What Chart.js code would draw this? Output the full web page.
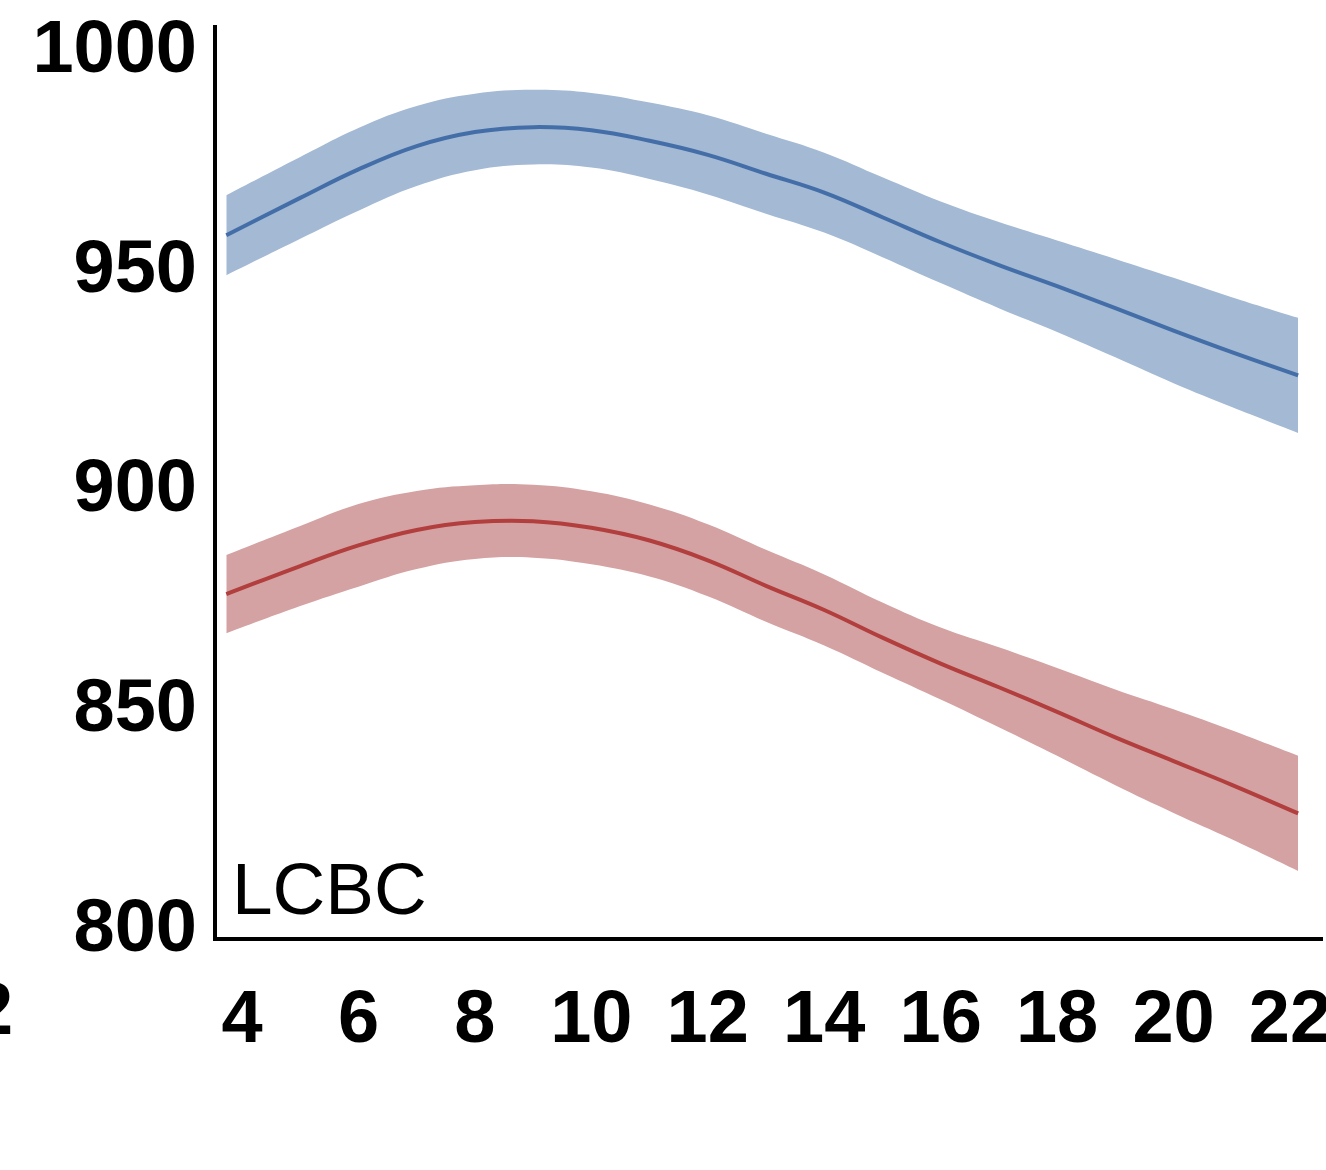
<!DOCTYPE html>
<html>
<head>
<meta charset="utf-8">
<title>LCBC</title>
<script src="https://cdn.jsdelivr.net/npm/chart.js@4.4.1/dist/chart.umd.min.js"></script>
<style>
  html, body { margin: 0; padding: 0; background: #fff; }
  #wrap { width: 1326px; height: 1170px; position: relative; }
</style>
</head>
<body>
<div id="wrap"><canvas id="chart"></canvas></div>
<script>
const ages = [3.73, 5, 6, 7, 8, 9, 10, 11, 12, 13, 14, 15, 16, 17, 18, 19, 20, 21, 22.14];

const blueMean  = [958.2, 966.7, 973.2, 978.5, 981.7, 982.8, 982.1, 979.7, 976.5, 972.2, 967.9, 962.3, 956.6, 951.4, 946.6, 941.6, 936.5, 931.6, 926.3];
const blueUpper = [967.3, 976.0, 982.6, 987.6, 990.4, 991.3, 990.6, 988.4, 985.5, 981.3, 977.0, 971.4, 965.9, 961.2, 957.0, 952.8, 948.5, 944.1, 939.4];
const blueLower = [949.1, 957.4, 963.8, 969.4, 973.0, 974.3, 973.6, 971.0, 967.5, 963.1, 958.8, 953.2, 947.3, 941.6, 936.2, 930.4, 924.5, 919.1, 913.2];

const redMean  = [876.5, 882.9, 887.6, 891.1, 892.9, 893.1, 891.6, 888.7, 884.2, 878.4, 872.9, 866.6, 860.7, 855.3, 849.7, 843.9, 838.5, 833.1, 826.6];
const redUpper = [885.4, 892.0, 897.0, 900.0, 901.3, 901.4, 899.9, 896.9, 892.4, 886.6, 881.0, 874.6, 868.9, 864.4, 859.7, 854.8, 850.3, 845.5, 839.7];
const redLower = [867.6, 873.8, 878.2, 882.2, 884.5, 884.8, 883.3, 880.5, 876.0, 870.2, 864.8, 858.6, 852.5, 846.2, 839.7, 833.0, 826.7, 820.7, 813.5];

const yTicks = [800, 850, 900, 950, 1000];
const xTicks = [4, 6, 8, 10, 12, 14, 16, 18, 20, 22];
const cutTickLabel = "2";
const sampleName = "LCBC";

const FONT = "'Liberation Sans', Arial, Helvetica, sans-serif";
const BLUE_LINE = "rgb(68, 110, 168)";
const BLUE_BAND = "rgb(163, 185, 212)";
const RED_LINE = "rgb(178, 62, 62)";
const RED_BAND = "rgb(212, 162, 162)";

function pts(values) {
    return ages.map((a, i) => ({ x: a, y: values[i] }));
}

function linje(label, values, color) {
    return {
        label: label,
        data: pts(values),
        borderColor: color,
        borderWidth: 4,
        pointRadius: 0,
        tension: 0.4,
        fill: false
    };
}

function pojas(label, values, color, fill) {
    return {
        label: label,
        data: pts(values),
        borderWidth: 0,
        borderColor: color,
        backgroundColor: color,
        pointRadius: 0,
        tension: 0.4,
        fill: fill
    };
}

// tekst unutar grafika i odsječena oznaka na lijevoj ivici
const dodatniTekst = {
    id: "dodatniTekst",
    afterDraw(chart) {
        const ctx = chart.ctx;
        const area = chart.chartArea;
        const xs = chart.scales.x;
        ctx.save();
        ctx.fillStyle = "#000";
        ctx.font = "normal 73px " + FONT;
        ctx.textAlign = "left";
        ctx.textBaseline = "alphabetic";
        ctx.fillText(sampleName, area.left + 17, area.bottom - 25);

        ctx.font = "bold 74px " + FONT;
        ctx.textBaseline = "top";
        ctx.fillText(cutTickLabel, -28, xs.top + xs.options.ticks.padding);
        ctx.restore();
    }
};

new Chart(document.getElementById("chart").getContext("2d"), {
    type: "line",
    data: {
        datasets: [
            linje("blue", blueMean, BLUE_LINE),
            linje("red", redMean, RED_LINE),
            pojas("blue upper", blueUpper, BLUE_BAND, "+1"),
            pojas("blue lower", blueLower, BLUE_BAND, false),
            pojas("red upper", redUpper, RED_BAND, "+1"),
            pojas("red lower", redLower, RED_BAND, false)
        ]
    },
    options: {
        responsive: true,
        maintainAspectRatio: false,
        devicePixelRatio: 1,
        animation: false,
        layout: { padding: { top: 27, right: 4, left: 0, bottom: 0 } },
        plugins: {
            legend: { display: false },
            tooltip: { enabled: false }
        },
        scales: {
            x: {
                type: "linear",
                min: 3.536,
                max: 22.55,
                grid: { display: false, drawTicks: false },
                border: { display: true, color: "#000", width: 4 },
                afterBuildTicks: scale => { scale.ticks = xTicks.map(v => ({ value: v })); },
                afterFit: scale => { scale.height = 231; scale.paddingLeft = 0; scale.paddingRight = 0; },
                ticks: {
                    autoSkip: false,
                    maxRotation: 0,
                    padding: 38,
                    color: "#000",
                    font: { family: FONT, size: 74, weight: "bold" },
                    callback: v => String(v)
                }
            },
            y: {
                min: 798,
                max: 1005.6,
                grid: { display: false, drawTicks: false },
                border: { display: true, color: "#000", width: 4 },
                afterBuildTicks: scale => { scale.ticks = yTicks.map(v => ({ value: v })); },
                afterFit: scale => { scale.width = 215; scale.paddingTop = 0; scale.paddingBottom = 0; },
                ticks: {
                    padding: 18,
                    color: "#000",
                    font: { family: FONT, size: 74, weight: "bold" },
                    callback: v => String(v)
                }
            }
        }
    },
    plugins: [dodatniTekst]
});
</script>
</body>
</html>
